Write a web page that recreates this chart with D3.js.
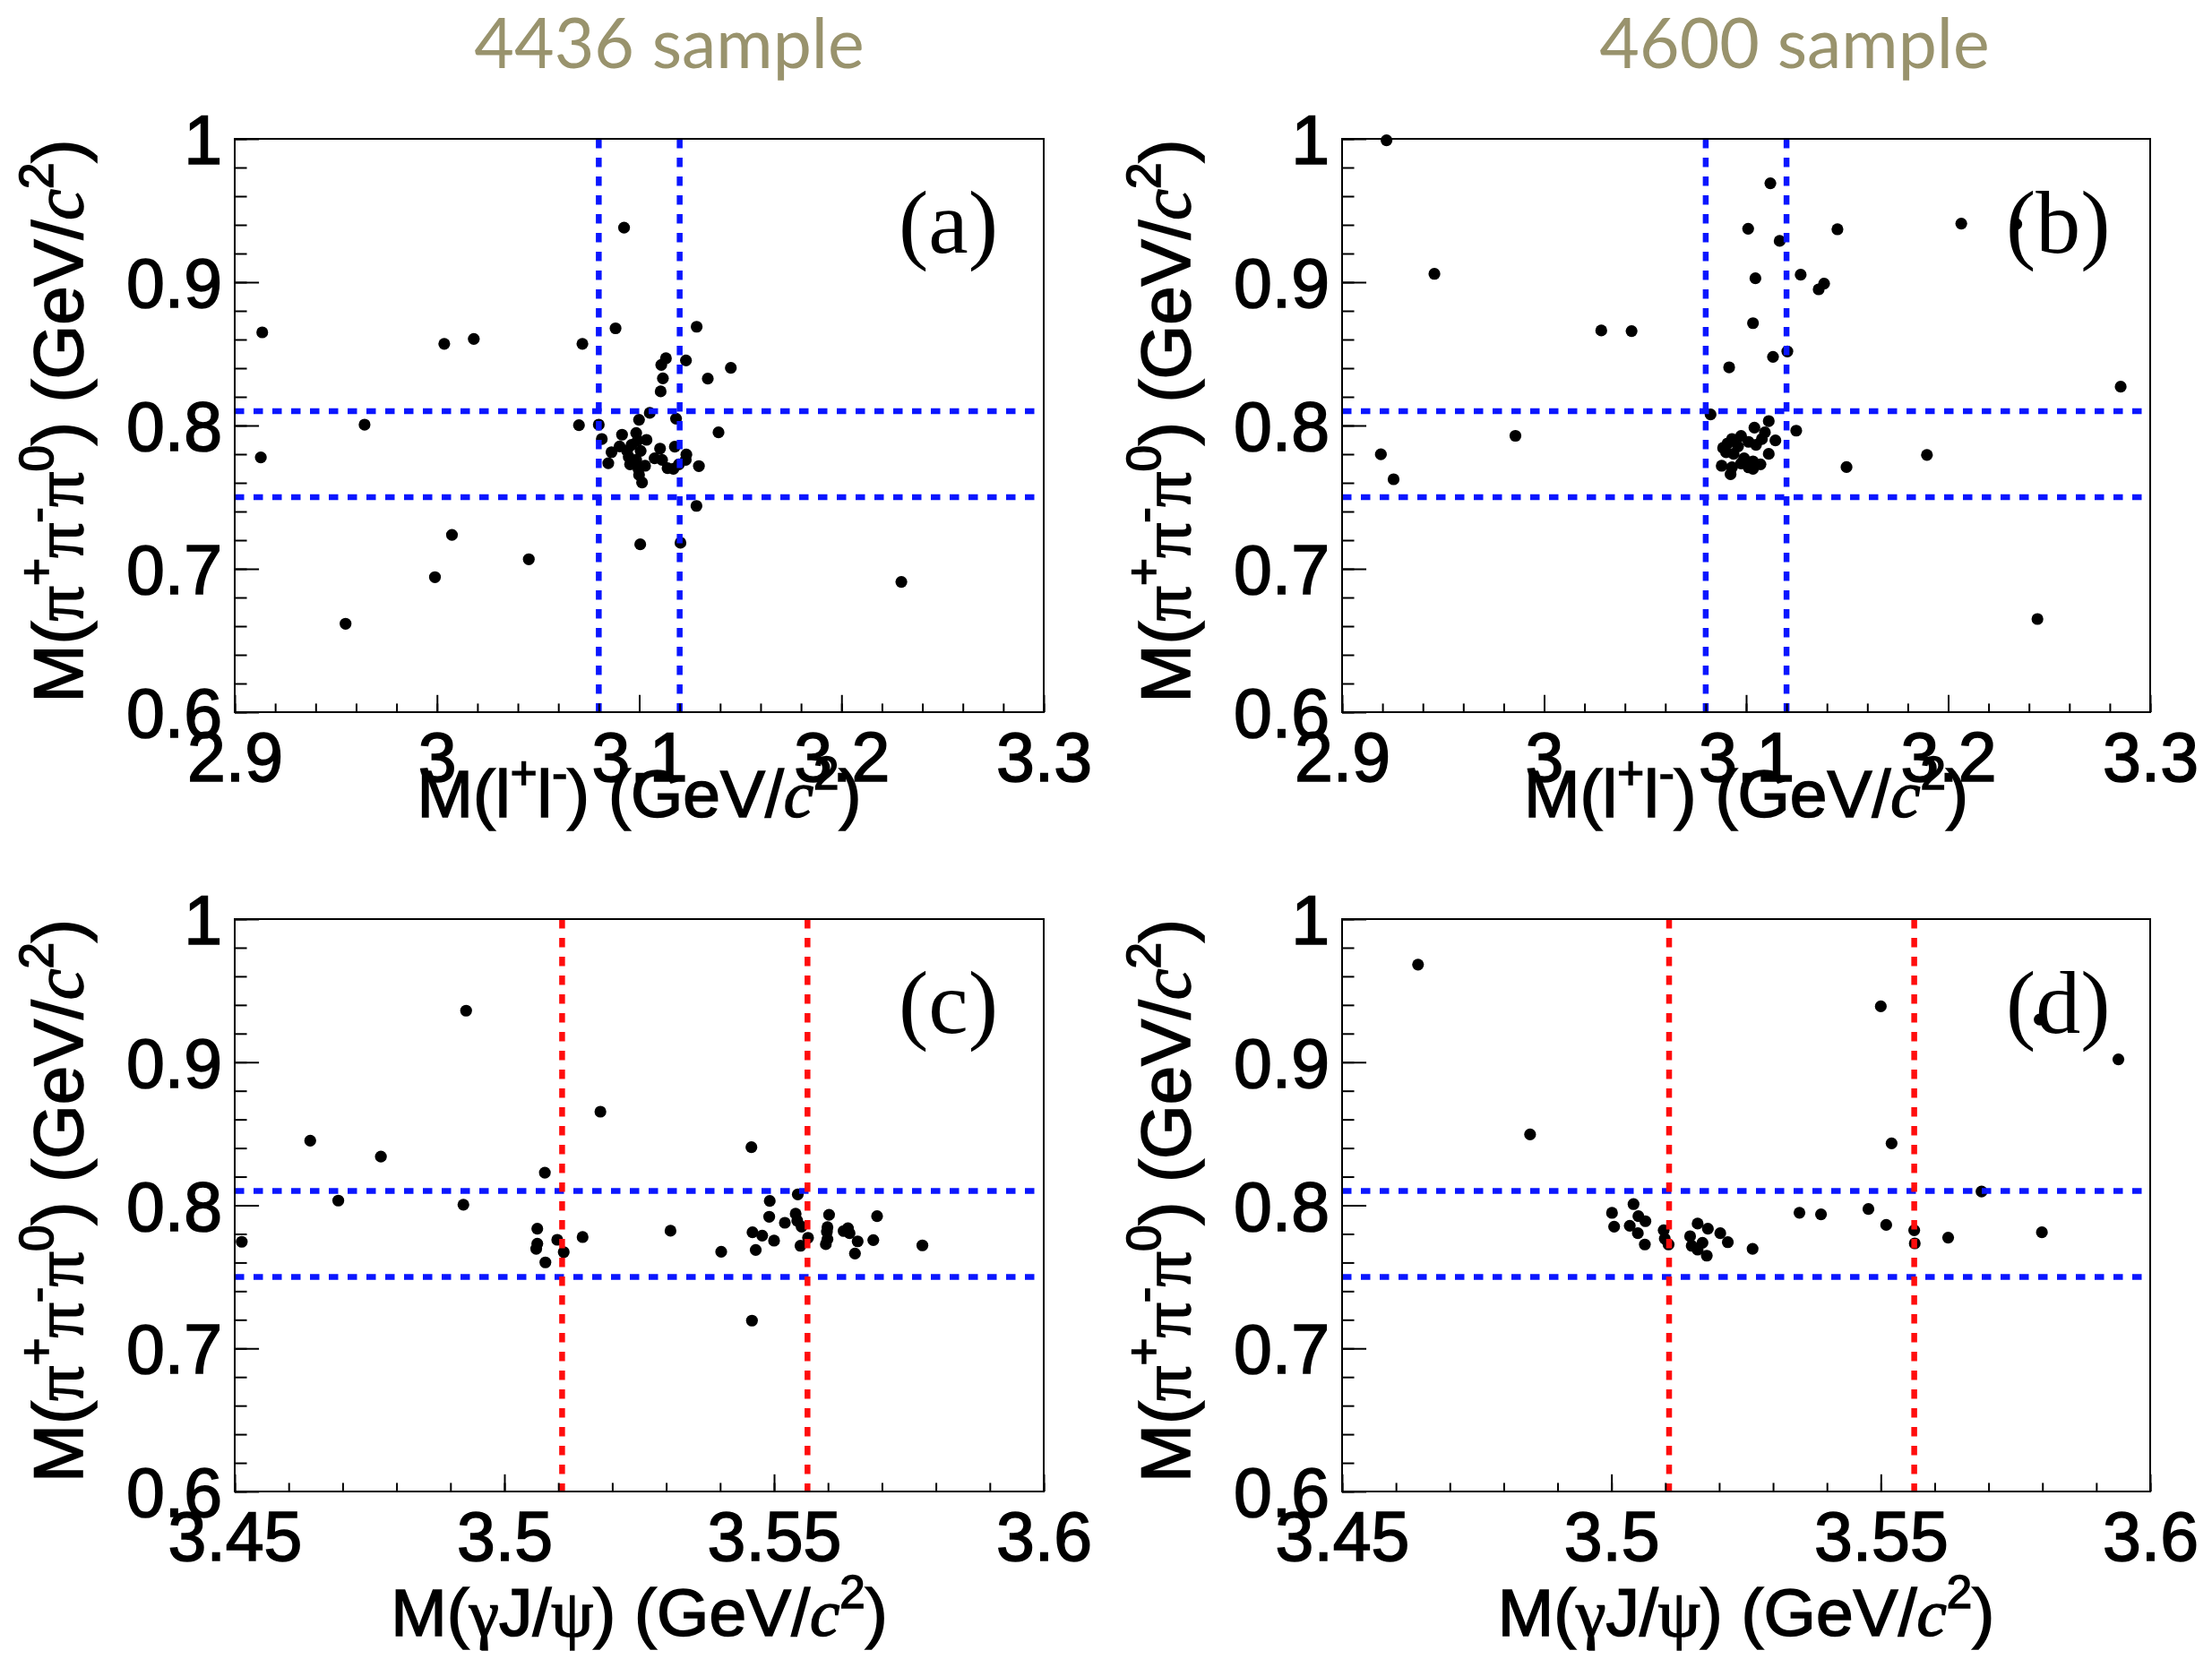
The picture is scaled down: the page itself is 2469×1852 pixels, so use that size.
<!DOCTYPE html>
<html>
<head>
<meta charset="utf-8">
<script src="https://cdn.jsdelivr.net/npm/d3@7"></script>
<style>
  body { margin: 0; background: #fff; }
  svg { display: block; }
</style>
</head>
<body>
<script>
// ---- Event data: M(pi+pi-pi0) against M(l+l-) / M(gamma J/psi) ----

// (a) 4436 sample, M(l+l-) [GeV/c^2]
const aMll = [2.9136, 2.9129, 2.9642, 2.9548, 2.999, 3.0074, 3.0036, 3.0182, 3.0454, 3.0719,
  3.0925, 3.0883, 3.1284, 3.2296, 3.1005, 3.1204, 3.1283,
  3.1132, 3.1109, 3.1231, 3.1453, 3.1117, 3.1339, 3.1106, 3.1052, 3.0999, 3.0702,
  3.08, 3.1182, 3.1392, 3.0815, 3.0915, 3.0985, 3.0992, 3.1036, 3.0903, 3.0863,
  3.0847, 3.094, 3.0948, 3.0955, 3.0985, 3.1007, 3.0996, 3.0999, 3.1014, 3.1103,
  3.1076, 3.1113, 3.114, 3.1169, 3.1176, 3.1196, 3.1233, 3.123, 3.1295, 3.0962, 3.1029];
// (a) 4436 sample, M(pi+pi-pi0) [GeV/c^2]
const aM3pi = [0.865, 0.7777, 0.8006, 0.6617, 0.6942, 0.7237, 0.857, 0.8604, 0.7067, 0.857,
  0.938, 0.8678, 0.8689, 0.6909, 0.7171, 0.7182, 0.7439,
  0.8469, 0.8423, 0.8454, 0.8402, 0.8329, 0.8327, 0.8238, 0.8088, 0.804, 0.8002,
  0.8006, 0.8048, 0.7952, 0.7906, 0.7936, 0.7948, 0.7896, 0.79, 0.7854, 0.7814,
  0.7737, 0.7823, 0.7781, 0.7729, 0.776, 0.7823, 0.7698, 0.7656, 0.7602, 0.7839,
  0.7771, 0.776, 0.7702, 0.7698, 0.7852, 0.7729, 0.7798, 0.776, 0.7717, 0.7865, 0.7719];

// (b) 4600 sample, M(l+l-)
const bMll = [2.922, 2.9457, 2.9192, 2.9255, 2.9858, 3.0283, 3.0433, 3.0916, 3.112, 3.101,
  3.1166, 3.1452, 3.1046, 3.127, 3.1359, 3.1386, 3.1034, 3.1133, 3.1204, 3.0824,
  3.1248, 3.1497, 3.1895, 3.2065, 3.2337, 3.2442, 3.2854,
  3.1041, 3.1112, 3.1093, 3.1145, 3.0975, 3.093, 3.0908, 3.0886, 3.096, 3.1012,
  3.1049, 3.1078, 3.0938, 3.099, 3.1112, 3.1034, 3.1071, 3.1012, 3.0879, 3.093,
  3.0923, 3.1034, 3.0975, 3.0901];
// (b) 4600 sample, M(pi+pi-pi0)
const bM3pi = [0.999, 0.9058, 0.7799, 0.7625, 0.7928, 0.8663, 0.8659, 0.8406, 0.969, 0.9373,
  0.9288, 0.9369, 0.9027, 0.9052, 0.895, 0.899, 0.8714, 0.8479, 0.8517, 0.8077,
  0.7964, 0.771, 0.7795, 0.9409, 0.9405, 0.665, 0.8271,
  0.7985, 0.8031, 0.7952, 0.7896, 0.7927, 0.7906, 0.7875, 0.7844, 0.7854, 0.7886,
  0.7865, 0.7906, 0.7802, 0.7771, 0.7802, 0.775, 0.7729, 0.7708, 0.7719, 0.7708,
  0.766, 0.7698, 0.7735, 0.7813];

// (c) 4436 sample, M(gamma J/psi)
const cMgJ = [3.4513, 3.464, 3.4692, 3.4771, 3.4929, 3.4924, 3.5075, 3.5178, 3.5061, 3.5061,
  3.5059, 3.5098, 3.511, 3.5076, 3.5145, 3.5308, 3.5402, 3.5458, 3.5459, 3.5775,
  3.5544, 3.5492, 3.5491, 3.554, 3.5543, 3.552, 3.5551, 3.546, 3.5478, 3.55,
  3.5466, 3.5549, 3.5563, 3.5602, 3.5599, 3.5598, 3.5599, 3.5596, 3.5629, 3.5637,
  3.564, 3.5655, 3.565, 3.5691, 3.5684];
// (c) 4436 sample, M(pi+pi-pi0)
const cM3pi = [0.7745, 0.8451, 0.8033, 0.834, 0.936, 0.8004, 0.8228, 0.8654, 0.7836, 0.7732,
  0.7696, 0.7759, 0.7673, 0.7601, 0.7778, 0.7822, 0.7675, 0.8406, 0.7194, 0.772,
  0.8076, 0.803, 0.792, 0.7941, 0.7892, 0.7878, 0.7851, 0.7811, 0.7788, 0.7753,
  0.7688, 0.7717, 0.7773, 0.7934, 0.7847, 0.7815, 0.7763, 0.7728, 0.782, 0.784,
  0.7805, 0.7748, 0.7663, 0.7924, 0.7757];

// (d) 4600 sample, M(gamma J/psi)
const dMgJ = [3.4641, 3.4849, 3.55, 3.552, 3.5795, 3.5941, 3.5687, 3.5799, 3.5625, 3.5349,
  3.5389, 3.5477, 3.551, 3.5562, 3.5563, 3.5262,
  3.5001, 3.5005, 3.5041, 3.505, 3.5063, 3.5034, 3.5049, 3.5062, 3.5097, 3.5099,
  3.5106, 3.516, 3.5179, 3.5202, 3.5216, 3.5146, 3.5149, 3.5169, 3.516, 3.5177];
// (d) 4600 sample, M(pi+pi-pi0)
const dM3pi = [0.9682, 0.8495, 0.939, 0.8433, 0.9298, 0.902, 0.8096, 0.7811, 0.7774, 0.7948,
  0.7937, 0.7974, 0.7863, 0.7826, 0.7734, 0.7696,
  0.7947, 0.7851, 0.8008, 0.7924, 0.7889, 0.7857, 0.7805, 0.7726, 0.7826, 0.7767,
  0.7726, 0.7872, 0.7836, 0.7805, 0.7742, 0.7784, 0.7717, 0.7738, 0.769, 0.7648];

// ---- Axis ticks, labels and selection windows ----
const llTicks = [2.9, 3.0, 3.1, 3.2, 3.3];
const llTickLabels = ["2.9", "3", "3.1", "3.2", "3.3"];
const gjTicks = [3.45, 3.5, 3.55, 3.6];
const gjTickLabels = ["3.45", "3.5", "3.55", "3.6"];
const m3piTicks = [0.6, 0.7, 0.8, 0.9, 1.0];
const m3piTickLabels = ["0.6", "0.7", "0.8", "0.9", "1"];
const omegaWindow = [0.75, 0.81];     // omega mass window
const jpsiWindow = [3.08, 3.12];      // J/psi mass window
const chicMasses = [3.5107, 3.5562];  // chi_c1, chi_c2
const sampleTitles = ["4436 sample", "4600 sample"];
const panelTags = ["(a)", "(b)", "(c)", "(d)"];

// ---- Layout ----
const W = 2469, H = 1852;
const cols = [{ x0: 262, x1: 1165, title: 747 }, { x0: 1498, x1: 2400, title: 2003 }];
const rows = [{ y0: 155, y1: 795, xTitleY: 912 }, { y0: 1026, y1: 1665, xTitleY: 1826 }];
const SANS = "'Liberation Sans', Arial, Helvetica, sans-serif";
const SERIF = "'Liberation Serif', 'Times New Roman', serif";
const BLUE = "#0a16ff", RED = "#ff0d0d";
const INK = 1.6;  // extra stroke to give the sans labels their heavier weight

const svg = d3.select("body").append("svg")
  .attr("width", W).attr("height", H)
  .attr("viewBox", `0 0 ${W} ${H}`);
svg.append("rect").attr("width", W).attr("height", H).attr("fill", "#fff");

// Text with super-scripts and mixed fonts
function richText(sel, segs, size) {
  const raise = size * 0.42;
  let up = false;
  segs.forEach(s => {
    const ts = sel.append("tspan").text(s.t);
    if (s.serif) ts.attr("font-family", SERIF);
    if (s.italic) ts.attr("font-style", "italic");
    if (s.sup) {
      ts.attr("font-size", size * 0.68);
      if (!up) { ts.attr("dy", -raise); up = true; }
    } else if (up) {
      ts.attr("dy", raise); up = false;
    }
  });
}

const llTitle = [{ t: "M(l" }, { t: "+", sup: true }, { t: "l" }, { t: "-", sup: true },
  { t: ") (GeV/" }, { t: "c", serif: true, italic: true }, { t: "2", sup: true }, { t: ")" }];
const gjTitle = [{ t: "M(" }, { t: "γ", serif: true }, { t: "J/" }, { t: "ψ", serif: true },
  { t: ") (GeV/" }, { t: "c", serif: true, italic: true }, { t: "2", sup: true }, { t: ")" }];
const m3piTitle = [{ t: "M(" }, { t: "π", serif: true }, { t: "+", sup: true },
  { t: "π", serif: true }, { t: "-", sup: true }, { t: "π", serif: true }, { t: "0", sup: true },
  { t: ") (GeV/" }, { t: "c", serif: true, italic: true }, { t: "2", sup: true }, { t: ")" }];

const panels = [
  { col: 0, row: 0, xs: aMll, ys: aM3pi, xDom: [2.9, 3.3], xt: llTicks, xtl: llTickLabels,
    xMinor: d3.range(0, 21).map(i => 2.9 + i * 0.02), vLines: jpsiWindow, vColor: BLUE, title: llTitle },
  { col: 1, row: 0, xs: bMll, ys: bM3pi, xDom: [2.9, 3.3], xt: llTicks, xtl: llTickLabels,
    xMinor: d3.range(0, 21).map(i => 2.9 + i * 0.02), vLines: jpsiWindow, vColor: BLUE, title: llTitle },
  { col: 0, row: 1, xs: cMgJ, ys: cM3pi, xDom: [3.45, 3.6], xt: gjTicks, xtl: gjTickLabels,
    xMinor: d3.range(0, 16).map(i => 3.45 + i * 0.01), vLines: chicMasses, vColor: RED, title: gjTitle },
  { col: 1, row: 1, xs: dMgJ, ys: dM3pi, xDom: [3.45, 3.6], xt: gjTicks, xtl: gjTickLabels,
    xMinor: d3.range(0, 16).map(i => 3.45 + i * 0.01), vLines: chicMasses, vColor: RED, title: gjTitle }
];
const yMinor = d3.range(0, 21).map(i => 0.6 + i * 0.02);

// Sample titles
sampleTitles.forEach((t, i) => {
  svg.append("text")
    .attr("x", cols[i].title).attr("y", 76)
    .attr("text-anchor", "middle")
    .attr("font-family", "Lato, 'Open Sans', sans-serif")
    .attr("font-size", 77)
    .attr("fill", "#99936d")
    .text(t);
});

panels.forEach((p, idx) => {
  const c = cols[p.col], r = rows[p.row];
  const x = d3.scaleLinear().domain(p.xDom).range([c.x0, c.x1]);
  const y = d3.scaleLinear().domain([0.6, 1.0]).range([r.y1, r.y0]);
  const fw = c.x1 - c.x0, fh = r.y1 - r.y0;
  const g = svg.append("g");

  // markers
  g.append("g").selectAll("circle")
    .data(d3.zip(p.xs, p.ys))
    .join("circle")
    .attr("cx", d => x(d[0]))
    .attr("cy", d => y(d[1]))
    .attr("r", 6.6)
    .attr("fill", "#000");

  // selection windows (drawn over the markers)
  const dash = "10.5,10.5";
  g.append("g").selectAll("line")
    .data(omegaWindow)
    .join("line")
    .attr("x1", c.x0).attr("x2", c.x1)
    .attr("y1", d => y(d)).attr("y2", d => y(d))
    .attr("stroke", BLUE).attr("stroke-width", 6.5).attr("stroke-dasharray", dash);
  g.append("g").selectAll("line")
    .data(p.vLines)
    .join("line")
    .attr("x1", d => x(d)).attr("x2", d => x(d))
    .attr("y1", r.y0).attr("y2", r.y1)
    .attr("stroke", p.vColor).attr("stroke-width", 6.5).attr("stroke-dasharray", dash);

  // frame
  g.append("rect")
    .attr("x", c.x0).attr("y", r.y0).attr("width", fw).attr("height", fh)
    .attr("fill", "none").attr("stroke", "#000").attr("stroke-width", 2);

  // y axis: minor then major ticks, pointing inwards
  const yMajLen = 0.03 * fw, xMajLen = 0.03 * fh;
  g.append("g").attr("transform", `translate(${c.x0},0)`)
    .call(d3.axisLeft(y).tickValues(yMinor).tickSizeInner(-yMajLen / 2).tickSizeOuter(0).tickFormat(""))
    .call(a => a.select(".domain").remove())
    .call(a => a.selectAll("line").attr("stroke", "#000").attr("stroke-width", 2));
  g.append("g").attr("transform", `translate(${c.x0},0)`)
    .call(d3.axisLeft(y).tickValues(m3piTicks).tickSizeInner(-yMajLen).tickSizeOuter(0)
      .tickPadding(14).tickFormat((d, i) => m3piTickLabels[i]))
    .call(a => a.select(".domain").remove())
    .call(a => a.selectAll("line").attr("stroke", "#000").attr("stroke-width", 2))
    .call(a => a.selectAll("text").attr("font-family", SANS).attr("font-size", 77)
      .attr("fill", "#000").attr("stroke", "#000").attr("stroke-width", INK).attr("dy", "0.36em"));

  // x axis
  g.append("g").attr("transform", `translate(0,${r.y1})`)
    .call(d3.axisBottom(x).tickValues(p.xMinor).tickSizeInner(-xMajLen / 2).tickSizeOuter(0).tickFormat(""))
    .call(a => a.select(".domain").remove())
    .call(a => a.selectAll("line").attr("stroke", "#000").attr("stroke-width", 2));
  g.append("g").attr("transform", `translate(0,${r.y1})`)
    .call(d3.axisBottom(x).tickValues(p.xt).tickSizeInner(-xMajLen).tickSizeOuter(0)
      .tickPadding(22).tickFormat((d, i) => p.xtl[i]))
    .call(a => a.select(".domain").remove())
    .call(a => a.selectAll("line").attr("stroke", "#000").attr("stroke-width", 2))
    .call(a => a.selectAll("text").attr("font-family", SANS).attr("font-size", 77)
      .attr("fill", "#000").attr("stroke", "#000").attr("stroke-width", INK));

  // panel tag
  g.append("text")
    .attr("x", c.x0 + 741).attr("y", r.y0 + 127)
    .attr("font-family", SERIF).attr("font-size", 100).attr("fill", "#000")
    .text(panelTags[idx]);

  // x-axis title
  const xt = g.append("text")
    .attr("x", (c.x0 + c.x1) / 2).attr("y", r.xTitleY)
    .attr("text-anchor", "middle")
    .attr("font-family", SANS).attr("font-size", 75).attr("fill", "#000")
    .attr("stroke", "#000").attr("stroke-width", INK);
  richText(xt, p.title, 75);

  // y-axis title
  const yt = g.append("text")
    .attr("transform", `translate(${c.x0 - 170},${(r.y0 + r.y1) / 2 - 5}) rotate(-90)`)
    .attr("text-anchor", "middle")
    .attr("font-family", SANS).attr("font-size", 78).attr("fill", "#000")
    .attr("stroke", "#000").attr("stroke-width", INK);
  richText(yt, m3piTitle, 78);
});
</script>
</body>
</html>
